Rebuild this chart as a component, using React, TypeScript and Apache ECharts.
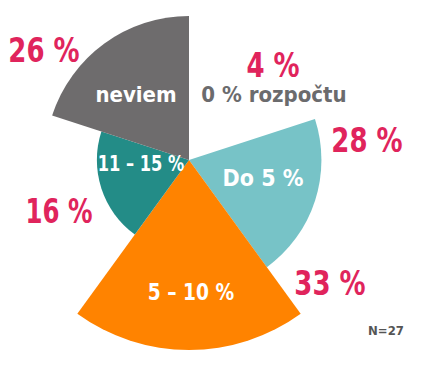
import React, { useEffect, useRef } from "react";
import * as echarts from "echarts";

// Categories (slices clockwise from 12 o'clock)
const categories = ["0 % rozpočtu", "Do 5 %", "5 – 10 %", "11 – 15 %", "neviem"];
// Share labels shown next to slices
const shares = ["4 %", "28 %", "33 %", "16 %", "26 %"];
// Relative radius of each drawn slice
const radiusValues = [0, 23, 33, 16, 25];
const sampleNote = "N=27";

const sliceColors = ["#ffffff", "#77c3c7", "#ff8300", "#238c87", "#6e6c6d"];
const PINK = "#e0245c";
const FONT = '"DejaVu Sans Condensed", "DejaVu Sans", sans-serif';

export default function App() {
  const ref = useRef<HTMLDivElement>(null);
  useEffect(() => {
    if (!ref.current) return;
    const chart = echarts.init(ref.current, undefined, { renderer: "svg" });

    const txt = (text: string, x: number, y: number, size: number, fill: string, sx = 1) => ({
      type: "text",
      x,
      y,
      z: 100,
      scaleX: sx,
      silent: true,
      style: {
        text,
        fill,
        font: `bold ${size}px ${FONT}`,
        textAlign: "center",
        textVerticalAlign: "middle",
        align: "center",
        verticalAlign: "middle",
      },
    });

    chart.setOption({
      animation: false,
      series: [
        {
          type: "pie",
          roseType: "area",
          center: [189, 160],
          radius: [0, 190],
          startAngle: 90,
          clockwise: true,
          silent: true,
          z: 2,
          label: { show: false },
          labelLine: { show: false },
          emphasis: { disabled: true },
          itemStyle: { borderWidth: 0 },
          data: categories.map((name, i) => ({
            name,
            value: radiusValues[i],
            itemStyle: { color: sliceColors[i] },
          })),
        },
      ],
      graphic: {
        elements: [
          // slice names
          txt(categories[0], 274, 94, 22, "#6b6b6d"),
          txt(categories[1], 263, 178, 23, "#ffffff"),
          txt(categories[2], 191, 292, 23, "#ffffff", 0.9),
          txt(categories[3], 141, 163, 22, "#ffffff", 0.82),
          txt(categories[4], 136, 94, 22, "#ffffff"),
          // shares
          txt(shares[0], 273, 65, 34, PINK, 0.85),
          txt(shares[1], 367, 140, 34, PINK, 0.85),
          txt(shares[2], 330, 283, 34, PINK, 0.85),
          txt(shares[3], 59, 211, 34, PINK, 0.8),
          txt(shares[4], 44, 50, 34, PINK, 0.85),
          txt(sampleNote, 386, 330, 13, "#555555"),
        ],
      },
    });
    return () => chart.dispose();
  }, []);
  return (
    <div
      ref={ref}
      style={{ position: "absolute", left: 0, top: 0, width: 429, height: 368, background: "#ffffff" }}
    />
  );
}
